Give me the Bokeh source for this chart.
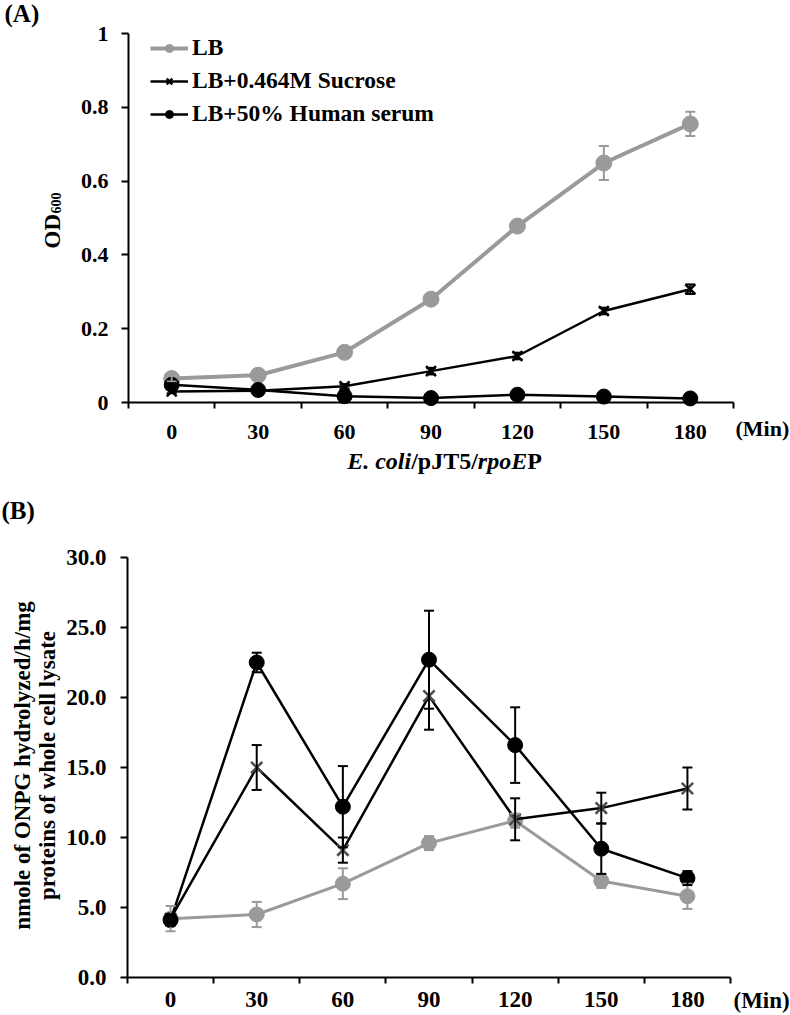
import math
from bokeh.plotting import figure
from bokeh.models import (Range1d, FixedTicker, Whisker, TeeHead, ColumnDataSource,
                          Legend, LegendItem, Label)
from bokeh.layouts import column
from bokeh.embed import file_html
from bokeh.resources import INLINE

FONT = "Liberation Serif"
GRAY = "#9a9a9a"
BLACK = "#000000"

# ---------------- data ----------------
time_min = [0, 30, 60, 90, 120, 150, 180]
x_tick_labels = ["0", "30", "60", "90", "120", "150", "180"]
series_names = ["LB", "LB+0.464M Sucrose", "LB+50% Human serum"]

# Panel A : OD600
od_lb = [0.065, 0.074, 0.136, 0.280, 0.478, 0.649, 0.755]
od_lb_err = [0.008, 0.008, 0.010, 0.010, 0.010, 0.046, 0.033]
od_suc = [0.030, 0.032, 0.044, 0.085, 0.126, 0.248, 0.307]
od_suc_err = [0.005, 0.005, 0.006, 0.009, 0.009, 0.009, 0.013]
od_hs = [0.048, 0.034, 0.017, 0.012, 0.021, 0.016, 0.011]
od_hs_err = [0.004, 0.004, 0.004, 0.004, 0.004, 0.004, 0.004]

a_y_ticks = [0, 0.2, 0.4, 0.6, 0.8, 1.0]
a_y_labels = ["0", "0.2", "0.4", "0.6", "0.8", "1"]

# Panel B : ONPG hydrolysis
b_lb = [4.2, 4.5, 6.7, 9.6, 11.2, 6.9, 5.8]
b_lb_err = [0.9, 0.9, 1.1, 0.5, 0.5, 0.5, 0.9]
b_suc = [4.2, 15.0, 9.1, 20.1, 11.3, 12.1, 13.5]
b_suc_err = [0.3, 1.6, 0.9, 2.4, 1.5, 1.1, 1.5]
b_hs = [4.1, 22.5, 12.2, 22.7, 16.6, 9.2, 7.1]
b_hs_err = [0.4, 0.7, 2.9, 3.5, 2.7, 1.8, 0.5]

b_y_ticks = [0, 5, 10, 15, 20, 25, 30]
b_y_labels = ["0.0", "5.0", "10.0", "15.0", "20.0", "25.0", "30.0"]

X0, X1 = time_min[0] - 15, time_min[-1] + 15
bounds = [t - 15 for t in time_min] + [X1]


class Mapper:
    """pixel <-> data helper for a panel whose frame fills the canvas"""
    def __init__(self, px0, px1, py0, py1, y0, y1, height):
        self.sx = (px1 - px0) / (X1 - X0)
        self.px0 = px0
        self.sy = (py0 - py1) / (y1 - y0)
        self.py0 = py0
        self.y0 = y0
        self.h = height

    def x(self, px):
        return X0 + (px - self.px0) / self.sx

    def y(self, py):
        return self.y0 + (self.py0 - py) / self.sy


def make_fig(m, ylo, yhi, yticks, ylabels, fs_x, fs_y, x_standoff, y_standoff):
    p = figure(width=790, height=m.h,
               x_range=Range1d(m.x(0), m.x(790)), y_range=Range1d(m.y(m.h), m.y(0)),
               output_backend="svg", toolbar_location=None, min_border=0)
    p.xgrid.visible = False
    p.ygrid.visible = False
    p.outline_line_color = None
    p.background_fill_color = "white"
    p.border_fill_color = "white"
    for ax in (p.xaxis[0], p.yaxis[0]):
        ax.axis_line_width = 2
        ax.axis_line_color = BLACK
        ax.major_label_text_font = FONT
        ax.major_label_text_font_style = "bold"
        ax.major_label_text_color = BLACK
        ax.major_tick_line_color = BLACK
        ax.major_tick_line_width = 2
        ax.minor_tick_line_color = BLACK
        ax.minor_tick_line_width = 2
    xa = p.xaxis[0]
    xa.fixed_location = ylo
    xa.bounds = (X0, X1)
    xa.ticker = FixedTicker(ticks=time_min, minor_ticks=bounds)
    xa.major_label_overrides = dict(zip(time_min, x_tick_labels))
    xa.major_tick_out = 0
    xa.major_tick_in = 0
    xa.minor_tick_out = 6
    xa.minor_tick_in = 0
    xa.major_label_text_font_size = fs_x
    xa.major_label_standoff = x_standoff
    ya = p.yaxis[0]
    ya.fixed_location = X0
    ya.bounds = (ylo, yhi)
    ya.ticker = FixedTicker(ticks=yticks, minor_ticks=[])
    ya.major_label_overrides = dict(zip(yticks, ylabels))
    ya.major_tick_out = 7
    ya.major_tick_in = 0
    ya.minor_tick_out = 0
    ya.minor_tick_in = 0
    ya.major_label_text_font_size = fs_y
    ya.major_label_standoff = y_standoff
    return p


def series(p, y, err, color, marker, size, lw, mcolor=None):
    mcolor = mcolor or color
    src = ColumnDataSource(dict(
        x=time_min, y=y,
        upper=[a + b for a, b in zip(y, err)],
        lower=[a - b for a, b in zip(y, err)]))
    ln = p.line("x", "y", source=src, line_color=color, line_width=lw)
    w = Whisker(source=src, base="x", upper="upper", lower="lower",
                line_color=color, line_width=2,
                upper_head=TeeHead(size=10, line_color=color, line_width=2),
                lower_head=TeeHead(size=10, line_color=color, line_width=2))
    w.level = "glyph"
    p.add_layout(w)
    if marker == "x":
        mk = p.scatter("x", "y", source=src, marker="x", size=size,
                       line_color=mcolor, line_width=2.5)
    else:
        mk = p.scatter("x", "y", source=src, marker="circle", size=size,
                       fill_color=mcolor, line_color=mcolor)
    return [ln, mk]


def lab(p, text, x, y, size, style="bold", align="left", baseline="middle", angle=0.0):
    p.add_layout(Label(x=x, y=y, text=text, text_font=FONT, text_font_style=style,
                       text_font_size=size, text_color=BLACK, text_align=align,
                       text_baseline=baseline, angle=angle))


# ---------------- Panel A ----------------
ma = Mapper(128, 733, 402, 33, 0.0, 1.0, 485)
pa = make_fig(ma, 0.0, 1.0, a_y_ticks, a_y_labels, "22px", "22px", 16, 13)

ra_lb = series(pa, od_lb, od_lb_err, GRAY, "circle", 16, 4)
ra_suc = series(pa, od_suc, od_suc_err, BLACK, "x", 14, 2.5)
ra_hs = series(pa, od_hs, od_hs_err, BLACK, "circle", 15, 2.5)

legend = Legend(items=[LegendItem(label=series_names[0], renderers=ra_lb),
                       LegendItem(label=series_names[1], renderers=ra_suc),
                       LegendItem(label=series_names[2], renderers=ra_hs)],
                location=(150, 358), padding=0, margin=0, spacing=6,
                glyph_width=38, glyph_height=20, label_height=22, label_standoff=4,
                label_text_font=FONT, label_text_font_style="bold",
                label_text_font_size="23.5px", label_text_color=BLACK,
                border_line_color=None, background_fill_alpha=0)
pa.add_layout(legend)

lab(pa, "(A)", ma.x(4), ma.y(13), "25px")
lab(pa, "OD", ma.x(52), ma.y(248), "23px", baseline="alphabetic", angle=math.pi / 2)
lab(pa, "600", ma.x(55), ma.y(213), "14px", baseline="alphabetic", angle=math.pi / 2)
fs_t = 24
pieces = [("E. coli", "bold italic", 2.667), ("/pJT5/", "bold", 2.779),
          ("rpoE", "bold italic", 2.056), ("P", "bold", 0.611)]
total = sum(w for _, _, w in pieces) * fs_t
sx = 444 - total / 2
for txt, st, w in pieces:
    lab(pa, txt, ma.x(sx), ma.y(460), f"{fs_t}px", style=st)
    sx += w * fs_t
lab(pa, "(Min)", ma.x(735), ma.y(428), "22px")

# ---------------- Panel B ----------------
mb = Mapper(127, 730, 977 - 485, 557 - 485, 0.0, 30.0, 530)
pb = make_fig(mb, 0.0, 30.0, b_y_ticks, b_y_labels, "23px", "23px", 8, 14)

series(pb, b_lb, b_lb_err, GRAY, "circle", 15, 3)
series(pb, b_suc, b_suc_err, BLACK, "x", 16, 2.5, mcolor="#4d4d4d")
series(pb, b_hs, b_hs_err, BLACK, "circle", 15, 2.5)

lab(pb, "(B)", mb.x(1), mb.y(510 - 485), "25px")
lab(pb, "nmole of ONPG hydrolyzed/h/mg", mb.x(22), mb.y(765 - 485),
    "23px", align="center", angle=math.pi / 2)
lab(pb, "proteins of whole cell lysate", mb.x(47), mb.y(765 - 485),
    "23px", align="center", angle=math.pi / 2)
lab(pb, "(Min)", mb.x(733), mb.y(1000 - 485), "23px")

layout = column(pa, pb)
open("out.html", "w").write(file_html(layout, INLINE))
